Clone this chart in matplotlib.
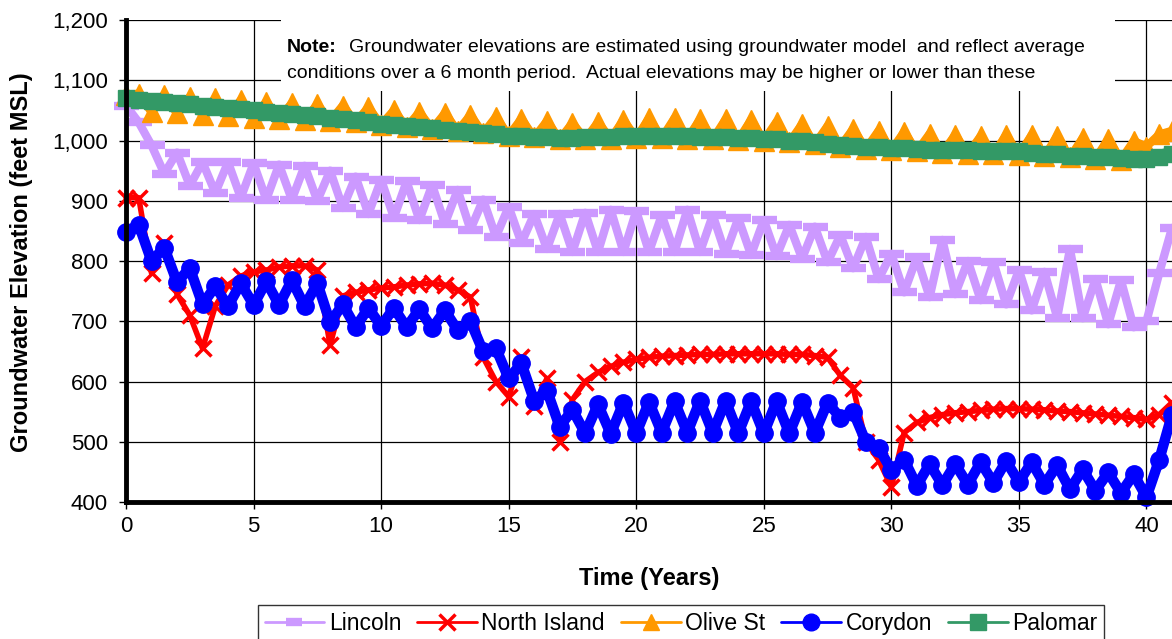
import matplotlib
matplotlib.use("Agg")
import matplotlib.pyplot as plt
from matplotlib.patches import Rectangle
from matplotlib.ticker import FuncFormatter

plt.rcParams['font.family'] = ['Liberation Sans', 'DejaVu Sans']

# time axis, half-year steps
years = [0, 0.5, 1, 1.5, 2, 2.5, 3, 3.5, 4, 4.5,
         5, 5.5, 6, 6.5, 7, 7.5, 8, 8.5, 9, 9.5,
         10, 10.5, 11, 11.5, 12, 12.5, 13, 13.5, 14, 14.5,
         15, 15.5, 16, 16.5, 17, 17.5, 18, 18.5, 19, 19.5,
         20, 20.5, 21, 21.5, 22, 22.5, 23, 23.5, 24, 24.5,
         25, 25.5, 26, 26.5, 27, 27.5, 28, 28.5, 29, 29.5,
         30, 30.5, 31, 31.5, 32, 32.5, 33, 33.5, 34, 34.5,
         35, 35.5, 36, 36.5, 37, 37.5, 38, 38.5, 39, 39.5,
         40, 40.5, 41]

lincoln = [1058, 1030, 992, 945, 980, 925, 964, 913, 964, 905,
           962, 902, 960, 902, 958, 900, 950, 888, 940, 878,
           935, 872, 932, 868, 926, 862, 918, 852, 902, 840,
           890, 830, 878, 820, 878, 815, 880, 815, 885, 815,
           883, 815, 876, 815, 885, 815, 876, 812, 871, 810,
           868, 808, 860, 804, 857, 798, 843, 788, 840, 770,
           812, 748, 806, 740, 835, 745, 800, 735, 798, 728,
           785, 718, 782, 706, 820, 705, 770, 695, 768, 690,
           700, 780, 855]

north_island = [905, 905, 780, 830, 745, 710, 655, 725, 760, 775,
                782, 785, 790, 792, 792, 785, 660, 742, 748, 752,
                755, 757, 760, 762, 763, 760, 752, 740, 640, 600,
                575, 640, 560, 605, 500, 570, 600, 615, 625, 632,
                637, 640, 642, 643, 644, 645, 645, 646, 646, 646,
                646, 646, 645, 645, 643, 640, 610, 590, 500, 470,
                425, 515, 532, 540, 545, 548, 550, 552, 554, 555,
                555, 554, 553, 551, 550, 548, 546, 544, 542, 540,
                537, 545, 565]

olive_st = [1075, 1078, 1047, 1075, 1045, 1072, 1042, 1070, 1040, 1067,
            1038, 1064, 1036, 1062, 1034, 1060, 1032, 1058, 1030, 1055,
            1026, 1050, 1022, 1047, 1019, 1045, 1016, 1042, 1012, 1039,
            1008, 1036, 1005, 1032, 1002, 1029, 1002, 1030, 1003, 1034,
            1004, 1037, 1004, 1037, 1003, 1035, 1002, 1035, 1001, 1034,
            1000, 1031, 997, 1027, 994, 1024, 990, 1019, 986, 1016,
            984, 1014, 982, 1011, 980, 1009, 978, 1007, 977, 1009,
            976, 1009, 974, 1007, 972, 1004, 970, 1002, 968, 999,
            990, 1010, 1016]

corydon = [848, 860, 800, 822, 765, 788, 728, 758, 725, 763,
           727, 766, 727, 768, 725, 763, 698, 728, 690, 722,
           692, 722, 690, 720, 688, 718, 685, 700, 650, 655,
           605, 630, 568, 585, 525, 553, 514, 562, 513, 565,
           514, 566, 515, 567, 515, 568, 515, 568, 514, 567,
           514, 567, 514, 566, 515, 565, 540, 550, 500, 490,
           453, 470, 427, 463, 428, 463, 429, 466, 432, 468,
           433, 466, 429, 461, 421, 454, 419, 449, 415, 446,
           408, 470, 545]

palomar = [1070, 1068, 1066, 1064, 1062, 1060, 1058, 1056, 1054, 1052,
           1050, 1048, 1046, 1044, 1042, 1040, 1038, 1036, 1034, 1031,
           1028, 1026, 1024, 1022, 1020, 1018, 1016, 1014, 1012, 1010,
           1008, 1007, 1006, 1005, 1004, 1004, 1005, 1006, 1006, 1007,
           1008, 1008, 1008, 1007, 1007, 1006, 1006, 1005, 1004, 1004,
           1003, 1002, 1000, 999, 997, 995, 993, 991, 990, 989,
           988, 987, 986, 985, 985, 984, 984, 983, 983, 982,
           982, 980, 978, 977, 975, 974, 973, 972, 971, 970,
           969, 973, 978]

# name, values, colour, marker, marker size, marker edge width, line width
series = [
    ("Lincoln", lincoln, "#CC99FF", "_", 18, 6, 6),
    ("North Island", north_island, "#FF0000", "x", 11, 2.5, 4),
    ("Olive St", olive_st, "#FF9900", "^", 14, 1, 6),
    ("Corydon", corydon, "#0000FF", "o", 12.5, 1, 7.5),
    ("Palomar", palomar, "#339966", "s", 11.5, 1, 10),
]

fig = plt.figure(figsize=(11.72, 6.39), dpi=100)
ax = fig.add_axes([126 / 1172, 1 - 502 / 639, 1 - 126 / 1172, (502 - 20) / 639])

for name, vals, color, marker, ms, mew, lw in series:
    ax.plot(years, vals, color=color, lw=lw, marker=marker, markersize=ms,
            markeredgewidth=mew, markeredgecolor=color, markerfacecolor=color,
            solid_joinstyle="round", solid_capstyle="round",
            label=name, clip_on=False, zorder=3)

ax.set_xlim(0, 41)
ax.set_ylim(400, 1200)
ax.set_xticks(range(0, 41, 5))
ax.set_yticks(range(400, 1201, 100))
ax.yaxis.set_major_formatter(FuncFormatter(lambda v, p: f"{v:,.0f}"))
ax.tick_params(labelsize=16, length=5, width=1, direction="out", color="black")
ax.tick_params(axis="y", pad=8)
ax.tick_params(axis="x", pad=5)

ax.set_axisbelow(True)
ax.grid(True, color="black", lw=0.9)
for side in ("top", "right"):
    ax.spines[side].set_visible(False)
for side in ("left", "bottom"):
    ax.spines[side].set_linewidth(3.5)
    ax.spines[side].set_zorder(4)

# white box behind the note
ax.add_patch(Rectangle((0.148, 0.853), 0.7975, 0.2, transform=ax.transAxes,
                       facecolor="white", edgecolor="none", zorder=1.5, clip_on=False))
fig.text(287 / 1172, 1 - 48 / 639, "Note:", fontsize=14, fontweight="bold", va="center")
fig.text(349 / 1172, 1 - 48 / 639,
         "Groundwater elevations are estimated using groundwater model  and reflect average",
         fontsize=14, va="center")
fig.text(287 / 1172, 1 - 74 / 639,
         "conditions over a 6 month period.  Actual elevations may be higher or lower than these",
         fontsize=14, va="center")

fig.text(649 / 1172, 1 - 578 / 639, "Time (Years)", fontsize=17, fontweight="bold",
         ha="center", va="center")
fig.text(22 / 1172, 1 - 262 / 639, "Groundwater Elevation (feet MSL)", fontsize=17,
         fontweight="bold", rotation=90, ha="center", va="center")

leg = fig.legend(loc="upper center", bbox_to_anchor=(681 / 1172, 1 - 605 / 639), ncol=5,
                 fontsize=16.5, frameon=True, fancybox=False, edgecolor="black",
                 handlelength=2.6, handletextpad=0.2, columnspacing=0.7,
                 borderpad=0.3, borderaxespad=0)
leg.get_frame().set_linewidth(1)
for h in leg.get_lines():
    h.set_linewidth(2)
    h.set_markersize(min(h.get_markersize(), 12))

fig.savefig("out.png", dpi=100)
